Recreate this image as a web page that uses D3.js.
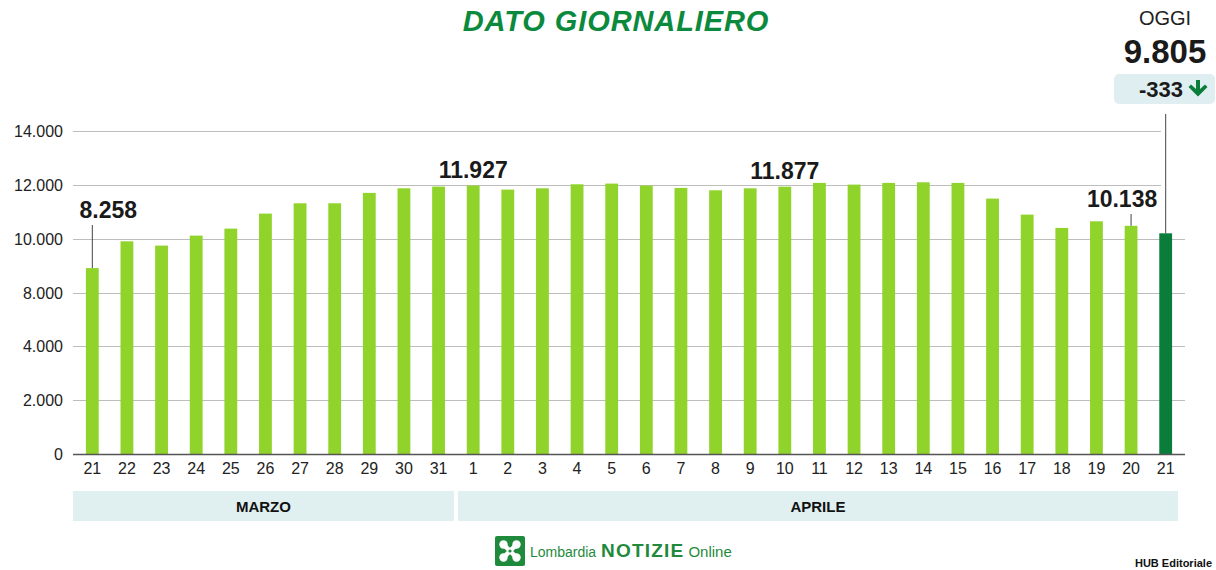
<!DOCTYPE html>
<html>
<head>
<meta charset="utf-8">
<script src="https://cdn.jsdelivr.net/npm/d3@7"></script>
<style>
  html, body { margin: 0; padding: 0; background: #fff; }
  svg { display: block; }
  text { font-family: "Liberation Sans", Arial, Helvetica, sans-serif; }
</style>
</head>
<body>
<div id="chart"></div>
<script>
// Daily figures, 21 March - 21 April
const days = ["21","22","23","24","25","26","27","28","29","30","31",
              "1","2","3","4","5","6","7","8","9","10",
              "11","12","13","14","15","16","17","18","19","20","21"];
const months = ["MARZO","MARZO","MARZO","MARZO","MARZO","MARZO","MARZO","MARZO","MARZO","MARZO","MARZO",
                "APRILE","APRILE","APRILE","APRILE","APRILE","APRILE","APRILE","APRILE","APRILE","APRILE",
                "APRILE","APRILE","APRILE","APRILE","APRILE","APRILE","APRILE","APRILE","APRILE","APRILE","APRILE"];
const values = [8258, 9449, 9258, 9702, 10013, 10680, 11138, 11138, 11600, 11804, 11880,
                11927, 11747, 11804, 11982, 12013, 11924, 11822, 11716, 11804, 11877,
                12044, 11969, 12044, 12071, 12044, 11347, 10636, 10044, 10338, 10138, 9805];
// Bars carrying a printed value
const labelled = [0, 11, 20, 30];
// Gridline labels as printed on the axis
const tickLabels = ["0", "2.000", "4.000", "8.000", "10.000", "12.000", "14.000"];
const todayLabel = "OGGI";
const deltaToday = -333;

const W = 1216, H = 570;
const fmt = v => d3.format(",")(v).replace(/,/g, ".");

const svg = d3.select("#chart").append("svg")
  .attr("width", W).attr("height", H);
svg.append("rect").attr("width", W).attr("height", H).attr("fill", "#fff");

const keys = days.map((d, i) => i);
const x = d3.scaleBand().domain(keys).range([75, 1183])
  .paddingInner(0.63).paddingOuter(0.315);
const y = d3.scaleLinear().domain([0, 14350]).range([454, 131]);
const grid = d3.scalePoint().domain(tickLabels).range([454, 131]);

const lightGreen = "#8fd32b", darkGreen = "#0a7d3b";

// Title
svg.append("text")
  .attr("x", 616).attr("y", 31)
  .attr("text-anchor", "middle")
  .attr("font-size", 29).attr("font-weight", 700).attr("font-style", "italic")
  .attr("letter-spacing", 0.9)
  .attr("fill", "#0b8a3e")
  .text("DATO GIORNALIERO");

// Gridlines
const gridG = svg.append("g");
tickLabels.forEach((t, i) => {
  if (i === 0) return;
  const gy = Math.round(grid(t)) + 0.5;
  gridG.append("line")
    .attr("x1", 73).attr("x2", gy < 200 ? 1161 : 1185)
    .attr("y1", gy).attr("y2", gy)
    .attr("stroke", "#bdbdbd").attr("stroke-width", 1);
});

// Y axis labels
const yAxis = d3.axisLeft(grid).tickSize(0).tickPadding(0);
const yG = svg.append("g").attr("transform", "translate(63,0)").call(yAxis);
yG.select(".domain").remove();
yG.selectAll("text")
  .attr("font-size", 16).attr("fill", "#222")
  .attr("font-family", "'Liberation Sans', Arial, sans-serif")
  .attr("dy", "0.35em");

// Bars
svg.append("g").selectAll("rect")
  .data(values)
  .join("rect")
  .attr("x", (d, i) => x(i))
  .attr("width", x.bandwidth())
  .attr("y", d => y(d))
  .attr("height", d => y(0) - y(d))
  .attr("fill", (d, i) => i === values.length - 1 ? darkGreen : lightGreen);

// Baseline
svg.append("line")
  .attr("x1", 73).attr("x2", 1185)
  .attr("y1", y(0) + 0.5).attr("y2", y(0) + 0.5)
  .attr("stroke", "#555").attr("stroke-width", 1.5);

// X axis day labels
const xAxis = d3.axisBottom(x).tickSize(0).tickPadding(0).tickFormat(i => days[i]);
const xG = svg.append("g").attr("transform", "translate(0,462)").call(xAxis);
xG.select(".domain").remove();
xG.selectAll("text")
  .attr("font-size", 16).attr("fill", "#222")
  .attr("font-family", "'Liberation Sans', Arial, sans-serif")
  .attr("dy", "0.72em");

// Month bands
const monthNames = Array.from(new Set(months));
monthNames.forEach((m, k) => {
  const idx = keys.filter(i => months[i] === m);
  const first = idx[0], last = idx[idx.length - 1];
  const step = x.step();
  const x0 = x(first) + x.bandwidth() / 2 - step / 2 + (k === 0 ? -2 : 2);
  const x1 = x(last) + x.bandwidth() / 2 + step / 2 - (k === monthNames.length - 1 ? 5 : 2);
  svg.append("rect")
    .attr("x", x0).attr("y", 491)
    .attr("width", x1 - x0).attr("height", 30)
    .attr("fill", "#e0eff0");
  svg.append("text")
    .attr("x", (x0 + x1) / 2).attr("y", 512)
    .attr("text-anchor", "middle")
    .attr("font-size", 15).attr("font-weight", 700).attr("fill", "#111")
    .text(m);
});

// Value labels with leader lines
const labelG = svg.append("g");
labelled.forEach(i => {
  const cx = x(i) + x.bandwidth() / 2;
  const v = values[i];
  const withLeader = (i === 0 || i === 30);
  const baseY = withLeader ? (i === 0 ? 218 : 207) : y(v) - 8;
  if (withLeader) {
    labelG.append("line")
      .attr("x1", cx).attr("x2", cx)
      .attr("y1", baseY + 7).attr("y2", y(v))
      .attr("stroke", "#444").attr("stroke-width", 1);
  }
  labelG.append("text")
    .attr("x", i === 0 ? cx + 16 : (i === 30 ? cx - 9 : cx))
    .attr("y", baseY)
    .attr("text-anchor", "middle")
    .attr("font-size", 23).attr("font-weight", 700).attr("fill", "#1a1a1a")
    .text(fmt(v));
});

// Today's callout
const last = values.length - 1;
const tx = x(last) + x.bandwidth() / 2;
svg.append("line")
  .attr("x1", tx).attr("x2", tx)
  .attr("y1", 114).attr("y2", y(values[last]))
  .attr("stroke", "#444").attr("stroke-width", 1);
svg.append("text")
  .attr("x", 1165).attr("y", 25)
  .attr("text-anchor", "middle")
  .attr("font-size", 20).attr("fill", "#222")
  .text(todayLabel);
svg.append("text")
  .attr("x", 1165).attr("y", 63)
  .attr("text-anchor", "middle")
  .attr("font-size", 33).attr("font-weight", 700).attr("fill", "#1a1a1a")
  .text(fmt(values[last]));
svg.append("rect")
  .attr("x", 1114).attr("y", 74).attr("width", 101).attr("height", 30)
  .attr("rx", 5).attr("fill", "#dfeef0");
svg.append("text")
  .attr("x", 1183).attr("y", 96.5)
  .attr("text-anchor", "end")
  .attr("font-size", 22).attr("font-weight", 700).attr("fill", "#1a1a1a")
  .text(String(deltaToday));
// down arrow
svg.append("path")
  .attr("d", "M1196,80 L1200,80 L1200,89 L1205,84.5 L1207.5,87 L1198,96.5 L1188.5,87 L1191,84.5 L1196,89 Z")
  .attr("fill", darkGreen);

// Footer logo
const logo = svg.append("g").attr("transform", "translate(495,536)");
logo.append("rect").attr("width", 30).attr("height", 30).attr("rx", 2).attr("fill", "#1f8a3c");
[[-1,-1],[1,-1],[-1,1],[1,1]].forEach(([sx, sy]) => {
  logo.append("circle")
    .attr("cx", 15 + sx * 6.5).attr("cy", 15 + sy * 6.5).attr("r", 4.2)
    .attr("fill", "#fff");
});
logo.append("path")
  .attr("d", "M9,9 L21,21 M21,9 L9,21")
  .attr("stroke", "#fff").attr("stroke-width", 4.5);
logo.append("circle").attr("cx", 15).attr("cy", 15).attr("r", 1.6).attr("fill", "#1f8a3c");

const brand = svg.append("text")
  .attr("x", 530).attr("y", 557)
  .attr("fill", "#1f8a3c")
  .attr("font-family", "'Noto Sans', 'Liberation Sans', sans-serif");
brand.append("tspan").attr("font-size", 14).text("Lombardia ");
brand.append("tspan").attr("font-size", 19).attr("font-weight", 700)
  .attr("letter-spacing", 1.2).attr("dx", 1).text("NOTIZIE");
brand.append("tspan").attr("font-size", 15).attr("dx", 4).text("Online");

svg.append("text")
  .attr("x", 1212).attr("y", 567)
  .attr("text-anchor", "end")
  .attr("font-size", 11).attr("font-weight", 700).attr("fill", "#111")
  .text("HUB Editoriale");
</script>
</body>
</html>
